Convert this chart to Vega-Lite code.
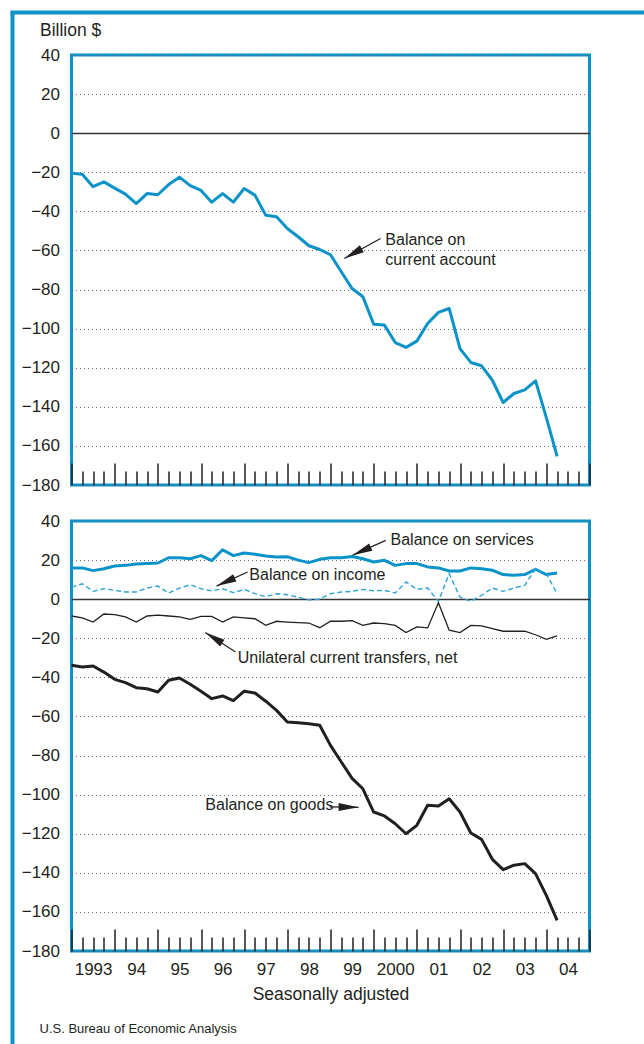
{
  "$schema": "https://vega.github.io/schema/vega-lite/v6.json",
  "padding": {"left": 8, "top": 8, "right": 0, "bottom": 0},
  "background": "white",
  "config": {
    "font": "Liberation Sans",
    "view": {"stroke": "#0b93c9", "strokeWidth": 3},
    "text": {"color": "#231f20"}
  },
  "datasets": {
    "series": [
      {"year": 1993.00, "current": -20.5, "services": 16, "income": 6.2, "transfers": -8.6, "goods": -33.8},
      {"year": 1993.25, "current": -21, "services": 16, "income": 7.9, "transfers": -9.6, "goods": -34.7},
      {"year": 1993.50, "current": -27.4, "services": 14.6, "income": 4, "transfers": -11.7, "goods": -34.2},
      {"year": 1993.75, "current": -24.9, "services": 15.6, "income": 5.4, "transfers": -7.6, "goods": -37.3},
      {"year": 1994.00, "current": -28.1, "services": 17, "income": 4.5, "transfers": -7.9, "goods": -41},
      {"year": 1994.25, "current": -31.2, "services": 17.3, "income": 3.7, "transfers": -9.1, "goods": -42.7},
      {"year": 1994.50, "current": -36, "services": 18, "income": 3.7, "transfers": -11.7, "goods": -45.3},
      {"year": 1994.75, "current": -30.9, "services": 18.2, "income": 5.7, "transfers": -8.6, "goods": -45.8},
      {"year": 1995.00, "current": -31.5, "services": 18.5, "income": 6.7, "transfers": -8.2, "goods": -47.5},
      {"year": 1995.25, "current": -26.3, "services": 21.2, "income": 3.1, "transfers": -8.6, "goods": -41.5},
      {"year": 1995.50, "current": -22.5, "services": 21.2, "income": 5.7, "transfers": -9.1, "goods": -40.3},
      {"year": 1995.75, "current": -26.8, "services": 20.7, "income": 7.4, "transfers": -10.3, "goods": -43.5},
      {"year": 1996.00, "current": -29.3, "services": 22.3, "income": 5.4, "transfers": -8.8, "goods": -47.1},
      {"year": 1996.25, "current": -35.3, "services": 19.7, "income": 4.2, "transfers": -8.8, "goods": -50.9},
      {"year": 1996.50, "current": -30.9, "services": 25.3, "income": 5.4, "transfers": -11.7, "goods": -49.5},
      {"year": 1996.75, "current": -35.3, "services": 22.3, "income": 3.3, "transfers": -9.1, "goods": -51.9},
      {"year": 1997.00, "current": -28.3, "services": 23.6, "income": 5, "transfers": -9.6, "goods": -47.1},
      {"year": 1997.25, "current": -31.7, "services": 23, "income": 2.8, "transfers": -10, "goods": -48},
      {"year": 1997.50, "current": -42, "services": 22.1, "income": 1.3, "transfers": -13.4, "goods": -52.2},
      {"year": 1997.75, "current": -42.8, "services": 21.6, "income": 2.8, "transfers": -11.3, "goods": -56.9},
      {"year": 1998.00, "current": -48.8, "services": 21.7, "income": 2.3, "transfers": -11.7, "goods": -62.8},
      {"year": 1998.25, "current": -53, "services": 20, "income": 1, "transfers": -12, "goods": -63.2},
      {"year": 1998.50, "current": -57.6, "services": 18.7, "income": -0.4, "transfers": -12.2, "goods": -63.7},
      {"year": 1998.75, "current": -59.5, "services": 20.4, "income": 0, "transfers": -14.6, "goods": -64.5},
      {"year": 1999.00, "current": -62.2, "services": 21.2, "income": 2.8, "transfers": -11.3, "goods": -74.8},
      {"year": 1999.25, "current": -70.9, "services": 21.2, "income": 3.7, "transfers": -11.3, "goods": -83.3},
      {"year": 1999.50, "current": -79.5, "services": 21.8, "income": 4, "transfers": -11, "goods": -91.7},
      {"year": 1999.75, "current": -83.7, "services": 20.7, "income": 5, "transfers": -13.4, "goods": -97},
      {"year": 2000.00, "current": -97.7, "services": 19, "income": 4.3, "transfers": -12.2, "goods": -108.9},
      {"year": 2000.25, "current": -98.2, "services": 19.9, "income": 4.5, "transfers": -12.5, "goods": -110.9},
      {"year": 2000.50, "current": -107.1, "services": 17.3, "income": 3.2, "transfers": -13.4, "goods": -114.9},
      {"year": 2000.75, "current": -109.6, "services": 18.2, "income": 8.8, "transfers": -17.1, "goods": -120},
      {"year": 2001.00, "current": -106.4, "services": 18.2, "income": 5, "transfers": -14.2, "goods": -115.7},
      {"year": 2001.25, "current": -97.4, "services": 16.5, "income": 5.7, "transfers": -14.7, "goods": -105.4},
      {"year": 2001.50, "current": -91.7, "services": 16, "income": -1.1, "transfers": -1.8, "goods": -105.8},
      {"year": 2001.75, "current": -89.7, "services": 14.4, "income": 13, "transfers": -15.9, "goods": -102.1},
      {"year": 2002.00, "current": -110.2, "services": 14.4, "income": 1.1, "transfers": -17.1, "goods": -108.9},
      {"year": 2002.25, "current": -117.3, "services": 16, "income": -1.1, "transfers": -13.4, "goods": -119.6},
      {"year": 2002.50, "current": -119, "services": 15.6, "income": 2, "transfers": -13.7, "goods": -122.9},
      {"year": 2002.75, "current": -126.4, "services": 14.8, "income": 5.7, "transfers": -15.1, "goods": -133.1},
      {"year": 2003.00, "current": -137.8, "services": 12.6, "income": 4, "transfers": -16.4, "goods": -138.4},
      {"year": 2003.25, "current": -133.2, "services": 12.2, "income": 5.7, "transfers": -16.4, "goods": -136.1},
      {"year": 2003.50, "current": -131.3, "services": 12.6, "income": 7.1, "transfers": -16.4, "goods": -135.3},
      {"year": 2003.75, "current": -126.7, "services": 15.3, "income": 15.6, "transfers": -18.2, "goods": -140.4},
      {"year": 2004.00, "current": -145.5, "services": 12.6, "income": 13, "transfers": -20.5, "goods": -151.5},
      {"year": 2004.25, "current": -165.4, "services": 13.4, "income": 2.8, "transfers": -18.8, "goods": -164.3}
    ],
    "notes": [
      {"panel": "top", "label": "Balance on", "year": 2000.27, "value": -54.9},
      {"panel": "top", "label": "current account", "year": 2000.27, "value": -65.1},
      {"panel": "bottom", "label": "Balance on services", "year": 2000.39, "value": 30.3},
      {"panel": "bottom", "label": "Balance on income", "year": 1997.12, "value": 12.4},
      {"panel": "bottom", "label": "Unilateral current transfers, net", "year": 1996.85, "value": -30.1},
      {"panel": "bottom", "label": "Balance on goods", "year": 1996.10, "value": -105.3}
    ],
    "arrows": [
      {"panel": "top", "year": 2000.16, "value": -53.9, "year2": 1999.32, "value2": -64.1, "angle": 241},
      {"panel": "bottom", "year": 2000.28, "value": 30.1, "year2": 1999.51, "value2": 22.5, "angle": 246},
      {"panel": "bottom", "year": 1997.08, "value": 13.9, "year2": 1996.36, "value2": 6.7, "angle": 246},
      {"panel": "bottom", "year": 1996.80, "value": -27, "year2": 1996.10, "value2": -17.1, "angle": 302},
      {"panel": "bottom", "year": 1998.98, "value": -106.3, "year2": 1999.65, "value2": -106.5, "angle": 91}
    ],
    "blank": [{"v": 0}]
  },
  "spacing": 0,
  "bounds": "flush",
  "vconcat": [
    {
      "width": 640, "height": 1,
      "view": {"stroke": "#0b93c9", "strokeWidth": 3},
      "data": {"name": "blank"},
      "mark": {"type": "point", "opacity": 0},
      "encoding": {
        "x": {"field": "v", "type": "quantitative", "axis": null},
        "y": {"field": "v", "type": "quantitative", "axis": null}
      }
    },
    {
      "spacing": 58.5,
      "bounds": "flush",
      "hconcat": [
        {
          "width": 1, "height": 1045,
          "view": {"stroke": "#0b93c9", "strokeWidth": 3},
          "data": {"name": "blank"},
          "mark": {"type": "point", "opacity": 0},
          "encoding": {
            "x": {"field": "v", "type": "quantitative", "axis": null},
            "y": {"field": "v", "type": "quantitative", "axis": null}
          }
        },
        {
          "spacing": 36,
          "bounds": "flush",
          "vconcat": [
            {"width": 518, "height": 6, "data": {"name": "blank"}, "mark": {"type": "point", "opacity": 0}, "view": {"stroke": null}},
            {
              "width": 518,
              "height": 430,
              "resolve": {"axis": {"x": "independent"}},
              "layer": [
                {
                  "data": {"name": "series"},
                  "mark": {"type": "line", "color": "#0b93c9", "strokeWidth": 3, "strokeJoin": "round"},
                  "encoding": {
                    "x": {
                      "field": "year", "type": "quantitative",
                      "scale": {"domain": [1993, 2005], "nice": false, "zero": false},
                      "axis": {
                        "orient": "bottom", "tickCount": 100,
                        "values": [1993.25,1993.5,1993.75,1994.25,1994.5,1994.75,1995.25,1995.5,1995.75,1996.25,1996.5,1996.75,1997.25,1997.5,1997.75,1998.25,1998.5,1998.75,1999.25,1999.5,1999.75,2000.25,2000.5,2000.75,2001.25,2001.5,2001.75,2002.25,2002.5,2002.75,2003.25,2003.5,2003.75,2004.25,2004.5,2004.75],
                        "domain": false, "grid": false, "labels": false, "title": null,
                        "tickColor": "#231f20", "tickWidth": 1.5, "tickSize": -14
                      }
                    },
                    "y": {
                      "field": "current", "type": "quantitative",
                      "scale": {"domain": [-180, 40], "nice": false, "zero": false},
                      "axis": {
                        "values": [-180,-160,-140,-120,-100,-80,-60,-40,-20,0,20,40],
                        "tickCount": 100,
                        "domain": false, "ticks": false, "grid": true,
                        "gridColor": {"condition": {"test": "datum.value === 0", "value": "#333333"}, "value": "#6d6d6d"},
                        "gridDash": {"condition": {"test": "datum.value === 0", "value": []}, "value": [1, 3]},
                        "gridWidth": {"condition": {"test": "datum.value === 0", "value": 1.4}, "value": 1},
                        "labelFontSize": 17, "labelColor": "#231f20", "labelPadding": 12,
                        "labelOverlap": false, "labelFlush": false, "labelBound": false,
                        "title": "Billion $", "titleAngle": 0, "titleAlign": "left", "titleBaseline": "alphabetic",
                        "titleX": -32, "titleY": -19.5, "titleFontSize": 17.5, "titleFontWeight": "normal", "titleColor": "#231f20"
                      }
                    }
                  }
                },
                {
                  "data": {"name": "arrows"},
                  "transform": [{"filter": "datum.panel === 'top'"}],
                  "mark": {"type": "rule", "color": "#231f20", "strokeWidth": 1.2},
                  "encoding": {
                    "x": {
                      "field": "year", "type": "quantitative",
                      "scale": {"domain": [1993, 2005], "nice": false, "zero": false},
                      "axis": {
                        "orient": "bottom", "tickCount": 100,
                        "values": [1993,1994,1995,1996,1997,1998,1999,2000,2001,2002,2003,2004,2005],
                        "domain": false, "grid": false, "labels": false, "title": null,
                        "tickColor": "#231f20", "tickWidth": 1.5, "tickSize": -22
                      }
                    },
                    "y": {"field": "value", "type": "quantitative"},
                    "x2": {"field": "year2"},
                    "y2": {"field": "value2"}
                  }
                },
                {
                  "data": {"name": "arrows"},
                  "transform": [{"filter": "datum.panel === 'top'"}],
                  "mark": {"type": "point", "shape": "M0,0L0.4,2L-0.4,2Z", "filled": true, "color": "#231f20", "opacity": 1, "size": 400},
                  "encoding": {
                    "x": {"field": "year2", "type": "quantitative", "axis": null},
                    "y": {"field": "value2", "type": "quantitative"},
                    "angle": {"field": "angle", "type": "quantitative", "scale": null}
                  }
                },
                {
                  "data": {"name": "notes"},
                  "transform": [{"filter": "datum.panel === 'top'"}],
                  "mark": {"type": "text", "align": "left", "baseline": "middle", "fontSize": 16, "color": "#231f20"},
                  "encoding": {
                    "x": {"field": "year", "type": "quantitative", "axis": null},
                    "y": {"field": "value", "type": "quantitative"},
                    "text": {"field": "label"}
                  }
                }
              ]
            },
            {
              "width": 518,
              "height": 430,
              "title": {"text": "U.S. Bureau of Economic Analysis", "orient": "bottom", "anchor": "start", "frame": "group", "offset": 20, "dx": -32, "fontSize": 13, "fontWeight": "normal", "font": "Liberation Sans Narrow, Liberation Sans", "color": "#231f20"},
              "resolve": {"axis": {"x": "independent"}},
              "layer": [
                {
                  "data": {"name": "series"},
                  "mark": {"type": "line", "color": "#0b93c9", "strokeWidth": 3, "strokeJoin": "round"},
                  "encoding": {
                    "x": {
                      "field": "year", "type": "quantitative",
                      "scale": {"domain": [1993, 2005], "nice": false, "zero": false},
                      "axis": {
                        "orient": "bottom", "tickCount": 100,
                        "values": [1993.25,1993.5,1993.75,1994.25,1994.5,1994.75,1995.25,1995.5,1995.75,1996.25,1996.5,1996.75,1997.25,1997.5,1997.75,1998.25,1998.5,1998.75,1999.25,1999.5,1999.75,2000.25,2000.5,2000.75,2001.25,2001.5,2001.75,2002.25,2002.5,2002.75,2003.25,2003.5,2003.75,2004.25,2004.5,2004.75],
                        "domain": false, "grid": false, "labels": false, "title": null,
                        "tickColor": "#231f20", "tickWidth": 1.5, "tickSize": -14
                      }
                    },
                    "y": {
                      "field": "services", "type": "quantitative",
                      "scale": {"domain": [-180, 40], "nice": false, "zero": false},
                      "axis": {
                        "values": [-180,-160,-140,-120,-100,-80,-60,-40,-20,0,20,40],
                        "tickCount": 100,
                        "domain": false, "ticks": false, "grid": true,
                        "gridColor": {"condition": {"test": "datum.value === 0", "value": "#333333"}, "value": "#6d6d6d"},
                        "gridDash": {"condition": {"test": "datum.value === 0", "value": []}, "value": [1, 3]},
                        "gridWidth": {"condition": {"test": "datum.value === 0", "value": 1.4}, "value": 1},
                        "labelFontSize": 17, "labelColor": "#231f20", "labelPadding": 12,
                        "labelOverlap": false, "labelFlush": false, "labelBound": false,
                        "title": null
                      }
                    }
                  }
                },
                {
                  "data": {"name": "series"},
                  "mark": {"type": "line", "color": "#2aa3d8", "strokeWidth": 1.4, "strokeDash": [5, 3]},
                  "encoding": {
                    "x": {
                      "field": "year", "type": "quantitative",
                      "scale": {"domain": [1993, 2005], "nice": false, "zero": false},
                      "axis": {
                        "orient": "bottom", "tickCount": 100,
                        "values": [1993,1994,1995,1996,1997,1998,1999,2000,2001,2002,2003,2004,2005],
                        "domain": false, "grid": false,
                        "tickColor": "#231f20", "tickWidth": 1.5, "tickSize": -22,
                        "labelExpr": "datum.value < 2005 ? ((datum.value === 1993 || datum.value === 2000) ? '' + datum.value : substring('' + datum.value, 2, 4)) : ''",
                        "labelOffset": 21.6, "labelOverlap": false, "labelBound": false, "labelFlush": false,
                        "labelFontSize": 17, "labelColor": "#231f20", "labelPadding": 32, "labelBaseline": "top",
                        "title": "Seasonally adjusted", "titleFontSize": 17.5, "titleFontWeight": "normal", "titleColor": "#231f20", "titlePadding": 8
                      }
                    },
                    "y": {"field": "income", "type": "quantitative"}
                  }
                },
                {
                  "data": {"name": "series"},
                  "mark": {"type": "line", "color": "#231f20", "strokeWidth": 1.3},
                  "encoding": {
                    "x": {"field": "year", "type": "quantitative", "axis": null},
                    "y": {"field": "transfers", "type": "quantitative"}
                  }
                },
                {
                  "data": {"name": "series"},
                  "mark": {"type": "line", "color": "#231f20", "strokeWidth": 3, "strokeJoin": "round"},
                  "encoding": {
                    "x": {"field": "year", "type": "quantitative", "axis": null},
                    "y": {"field": "goods", "type": "quantitative"}
                  }
                },
                {
                  "data": {"name": "arrows"},
                  "transform": [{"filter": "datum.panel === 'bottom'"}],
                  "mark": {"type": "rule", "color": "#231f20", "strokeWidth": 1.2},
                  "encoding": {
                    "x": {"field": "year", "type": "quantitative", "axis": null},
                    "y": {"field": "value", "type": "quantitative"},
                    "x2": {"field": "year2"},
                    "y2": {"field": "value2"}
                  }
                },
                {
                  "data": {"name": "arrows"},
                  "transform": [{"filter": "datum.panel === 'bottom'"}],
                  "mark": {"type": "point", "shape": "M0,0L0.4,2L-0.4,2Z", "filled": true, "color": "#231f20", "opacity": 1, "size": 400},
                  "encoding": {
                    "x": {"field": "year2", "type": "quantitative", "axis": null},
                    "y": {"field": "value2", "type": "quantitative"},
                    "angle": {"field": "angle", "type": "quantitative", "scale": null}
                  }
                },
                {
                  "data": {"name": "notes"},
                  "transform": [{"filter": "datum.panel === 'bottom'"}],
                  "mark": {"type": "text", "align": "left", "baseline": "middle", "fontSize": 16, "color": "#231f20"},
                  "encoding": {
                    "x": {"field": "year", "type": "quantitative", "axis": null},
                    "y": {"field": "value", "type": "quantitative"},
                    "text": {"field": "label"}
                  }
                }
              ]
            }
          ]
        }
      ]
    }
  ]
}
